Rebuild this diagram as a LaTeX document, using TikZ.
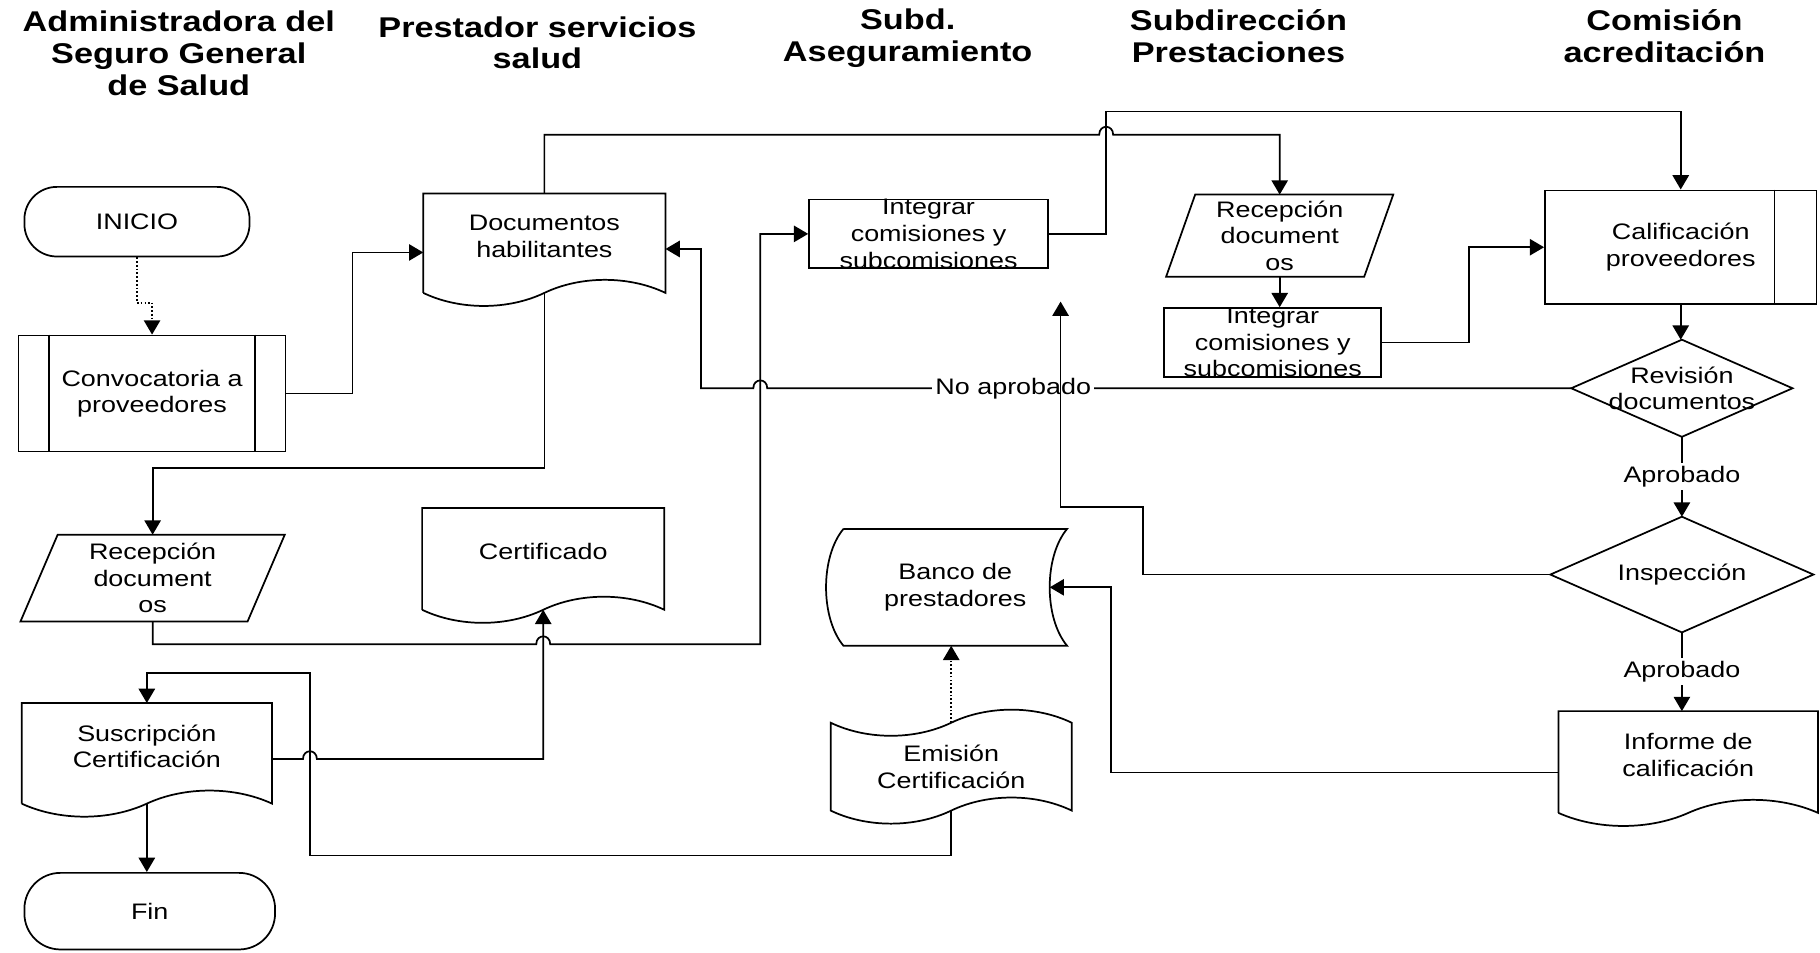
\documentclass[tikz,border=0pt]{standalone}
\usepackage{fontspec}
\setmainfont{Liberation Sans}[FakeStretch=1.2]
\usetikzlibrary{arrows.meta,calc}

\newcommand\drawdoc[1]{\draw[ln] (#1.south west) -- (#1.north west) -- (#1.north east) -- (#1.south east)
  .. controls ($(#1.south west)!.85!(#1.south east)+(0,-15)$) and ($(#1.south west)!.65!(#1.south east)+(0,-15)$) .. ($(#1.south west)!.5!(#1.south east)$)
  .. controls ($(#1.south west)!.35!(#1.south east)+(0,15)$) and ($(#1.south west)!.15!(#1.south east)+(0,15)$) .. (#1.south west);}
\newcommand\drawpara[2]{\draw[ln] (#1.south west) -- ($(#1.north west)+(#2,0)$) -- (#1.north east) -- ($(#1.south east)+(-#2,0)$) -- cycle;}
\newcommand\drawdiam[1]{\draw[ln] (#1.north) -- (#1.east) -- (#1.south) -- (#1.west) -- cycle;}

\begin{document}
\begin{tikzpicture}[x=0.02cm,y=-0.02cm,
  ln/.style={line width=0.85pt, draw=black},
  arr/.style={ln, -{Triangle[length=7pt,width=8pt]}},
  dotarr/.style={arr, densely dotted},
  box/.style={rectangle, inner sep=0pt, align=center, font=\fontsize{11pt}{13pt}\selectfont},
  proc/.style={box, draw, line width=0.85pt},
  term/.style={box, draw, line width=0.85pt},
  doc/.style={box, text depth=7pt},
  ttl/.style={align=center, inner sep=0pt, font=\fontsize{14pt}{15.5pt}\selectfont\bfseries},
  lbl/.style={fill=white, inner sep=1.5pt, font=\fontsize{11pt}{13pt}\selectfont},
]
\useasboundingbox (0,0) rectangle (1568,821);

% lane titles
\node[ttl] (t1) at (154,46) {Administradora del\\Seguro General\\de Salud};
\node[ttl] (t2) at (463,37) {Prestador servicios\\salud};
\node[ttl] (t3) at (782,33) {Subd.\\Aseguramiento};
\node[ttl] (t4) at (1067,31) {Subdirección\\Prestaciones};
\node[ttl] (t5) at (1434,31) {Comisión\\acreditación};

% nodes
\node[term, minimum width=3.88cm, minimum height=1.2cm, rounded corners=0.56cm] (inicio) at (118,191) {INICIO};
\node[term, minimum width=4.32cm, minimum height=1.32cm, rounded corners=0.62cm] (fin) at (129,785) {Fin};
\node[proc, minimum width=4.6cm, minimum height=2cm] (conv) at (131,339) {Convocatoria a\\proveedores};
\node[doc, minimum width=4.16cm, minimum height=1.7cm] (docs) at (469,209.5) {Documentos\\habilitantes};
\node[doc, minimum width=4.16cm, minimum height=1.74cm] (cert) at (468,481.5) {Certificado};
\node[box, minimum width=4.54cm, minimum height=1.48cm] (recl) at (131.5,498) {Recepción\\document\\os};
\node[doc, minimum width=4.3cm, minimum height=1.72cm] (susc) at (126.5,649) {Suscripción\\Certificación};
\node[proc, minimum width=4.12cm, minimum height=1.18cm] (integ1) at (800,201.5) {Integrar\\comisiones y\\subcomisiones};
\node[box, minimum width=3.84cm, minimum height=2cm] (banco) at (823,506) {Banco de\\prestadores};
\node[box, minimum width=4.14cm, minimum height=1.5cm] (emis) at (819.5,660.5) {Emisión\\Certificación};
\node[box, minimum width=3.9cm, minimum height=1.4cm] (recr) at (1102.5,203) {Recepción\\document\\os};
\node[proc, minimum width=3.74cm, minimum height=1.16cm] (integ2) at (1096.5,295) {Integrar\\comisiones y\\subcomisiones};
\node[proc, minimum width=4.68cm, minimum height=1.96cm] (cal) at (1448,213) {Calificación\\proveedores};
\node[box, minimum width=3.8cm, minimum height=1.66cm] (rev) at (1449,334.5) {Revisión\\documentos};
\node[box, minimum width=4.52cm, minimum height=1.98cm] (insp) at (1449,495) {Inspección};
\node[doc, minimum width=4.46cm, minimum height=1.74cm] (inf) at (1454.5,656.5) {Informe de\\calificación};

% outlines
\drawdoc{docs}
\drawdoc{cert}
\drawdoc{susc}
\drawdoc{inf}
\drawpara{recl}{32}
\drawpara{recr}{25}
\drawdiam{rev}
\drawdiam{insp}
\draw[ln] ($(conv.north west)+(27,0)$) -- ($(conv.south west)+(27,0)$);
\draw[ln] ($(conv.north east)+(-27,0)$) -- ($(conv.south east)+(-27,0)$);
\draw[ln] ($(cal.north east)+(-37,0)$) -- ($(cal.south east)+(-37,0)$);
\draw[ln] (banco.north west) -- (banco.north east)
  .. controls ($(banco.north east)+(-20,24)$) and ($(banco.south east)+(-20,-24)$) .. (banco.south east)
  -- (banco.south west)
  .. controls ($(banco.south west)+(-20,-24)$) and ($(banco.north west)+(-20,24)$) .. (banco.north west);
\draw[ln] (emis.north west)
  .. controls ($(emis.north west)!.15!(emis.north east)+(0,15)$) and ($(emis.north west)!.35!(emis.north east)+(0,15)$) .. ($(emis.north west)!.5!(emis.north east)$)
  .. controls ($(emis.north west)!.65!(emis.north east)+(0,-15)$) and ($(emis.north west)!.85!(emis.north east)+(0,-15)$) .. (emis.north east)
  -- (emis.south east)
  .. controls ($(emis.south west)!.85!(emis.south east)+(0,-15)$) and ($(emis.south west)!.65!(emis.south east)+(0,-15)$) .. ($(emis.south west)!.5!(emis.south east)$)
  .. controls ($(emis.south west)!.35!(emis.south east)+(0,15)$) and ($(emis.south west)!.15!(emis.south east)+(0,15)$) .. (emis.south west)
  -- cycle;

% connectors
\coordinate (tip1) at ($(integ1.south east)+(10,28)$);
\draw[dotarr] (inicio.south) -- ++(0,39) -| (conv.north);
\draw[arr] (conv.east) -- ++(57,0) |- ($(docs.west)+(0,8)$);
\draw[arr] (docs.north) |- (947,116) .. controls (947,107) and (959,107) .. (959,116) -| (recr.north);
\draw[arr] (integ1.east) -| (953,96) -| (cal.north);
\draw[arr] (docs.south) -- ++(0,151) -| (recl.north);
\draw[arr] (recl.south) |- (462,555) .. controls (462,546) and (474,546) .. (474,555) -| (655,240) |- (integ1.west);
\draw[arr] ($(susc.east)+(0,5)$) -- (261,654) .. controls (261,645) and (273,645) .. (273,654) -| (cert.south);
\draw[arr] (emis.south) |- (267,737) -- (267,580) -| (susc.north);
\draw[dotarr] (emis.north) -- (emis.north |- banco.south);
\draw[arr] (susc.south) -- (susc.south |- fin.north);
\draw[arr] (recr.south) -- (recr.south |- integ2.north);
\draw[arr] (integ2.east) -- ++(75,0) |- (cal.west);
\draw[arr] (cal.south) -- (cal.south |- rev.north);
\draw[arr] (rev.south) -- node[lbl] (ap1) {Aprobado} (insp.north);
\draw[arr] (insp.south) -- node[lbl] (ap2) {Aprobado} (insp.south |- inf.north);
\draw[arr] (rev.west) -- (661,334.5) .. controls (661,325.5) and (649,325.5) .. (649,334.5) -- (604,334.5) |- ($(docs.east)+(0,5)$);
\node[lbl] (noap) at (873,334.5) {No aprobado};
\draw[arr] (insp.west) -| (985,437) -| (tip1);
\draw[arr] ($(inf.west)+(0,9)$) -| (957,506) -- ($(banco.east)+(-15,0)$);
\end{tikzpicture}
\end{document}
